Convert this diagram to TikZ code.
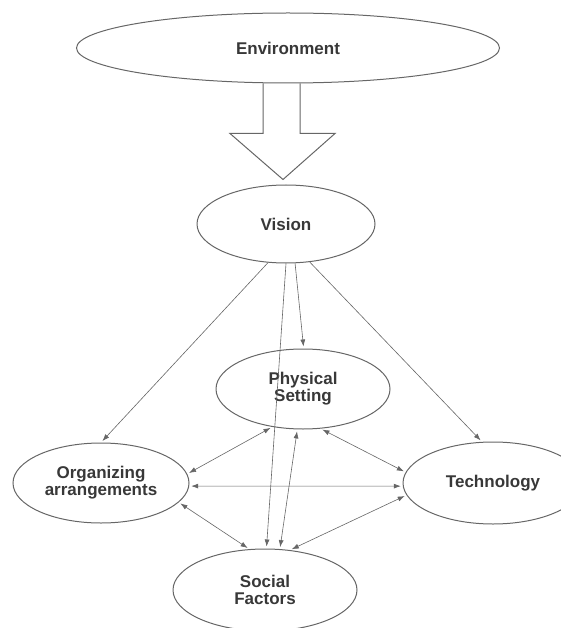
\documentclass[tikz,border=0pt]{standalone}
\usepackage{fontspec}
\setmainfont{Liberation Sans}
\usetikzlibrary{shapes.geometric,arrows.meta}
\definecolor{linegray}{gray}{0.4}
\definecolor{textgray}{gray}{0.22}
\tikzstyle{bubble}=[ellipse,draw=linegray,line width=1pt,inner sep=0pt,
                    align=center,text=textgray,
                    font=\fontsize{17}{17}\selectfont\bfseries]
\tikzstyle{link}=[draw=linegray,line width=0.6pt,->,shorten >=2pt]
\tikzstyle{twoway}=[link,<->,shorten <=2pt]
\begin{document}
\begin{tikzpicture}[x=1pt,y=-1pt,>={Latex[length=7pt,width=5pt]}]
    \useasboundingbox (0,0) rectangle (560,628);
    \node (env) at (288,48) [bubble,minimum width=423pt,minimum height=70pt]{Environment};
    \node (vision) at (286,224) [bubble,minimum width=178pt,minimum height=78pt]{Vision};
    \node (phys) at (303,389) [bubble,minimum width=174pt,minimum height=80pt]{Physical\\Setting};
    \node (org) at (101,483) [bubble,minimum width=176pt,minimum height=80pt]{Organizing\\arrangements};
    \node (tech) at (493,483) [bubble,minimum width=180pt,minimum height=82pt]{Technology};
    \node (soc) at (265,590) [bubble,minimum width=184pt,minimum height=82pt]{Social\\Factors};
    % hollow arrow from the environment
    \draw[draw=linegray,line width=1pt] (env.south) ++(-25,0) -- ++(0,50) -- ++(-33,0)
        -- ++(53,46) -- ++(52,-46) -- ++(-35,0) -- ++(0,-50);
    \draw[link] (vision.245) -- (org.90);
    \draw[link] (vision.270) -- (soc.88);
    \draw[link] (vision.283) -- (phys.89);
    \draw[link] (vision.302) -- (tech.105);
    \draw[twoway] (phys.262) -- (soc.70);
    \draw[twoway] (phys.231) -- (org.6);
    \draw[twoway] (phys.294) -- (tech.173);
    \draw[twoway] (org.-2) -- (tech.182);
    \draw[twoway] (org.-14) -- (soc.111);
    \draw[twoway] (tech.188) -- (soc.58);
  \end{tikzpicture}
\end{document}
